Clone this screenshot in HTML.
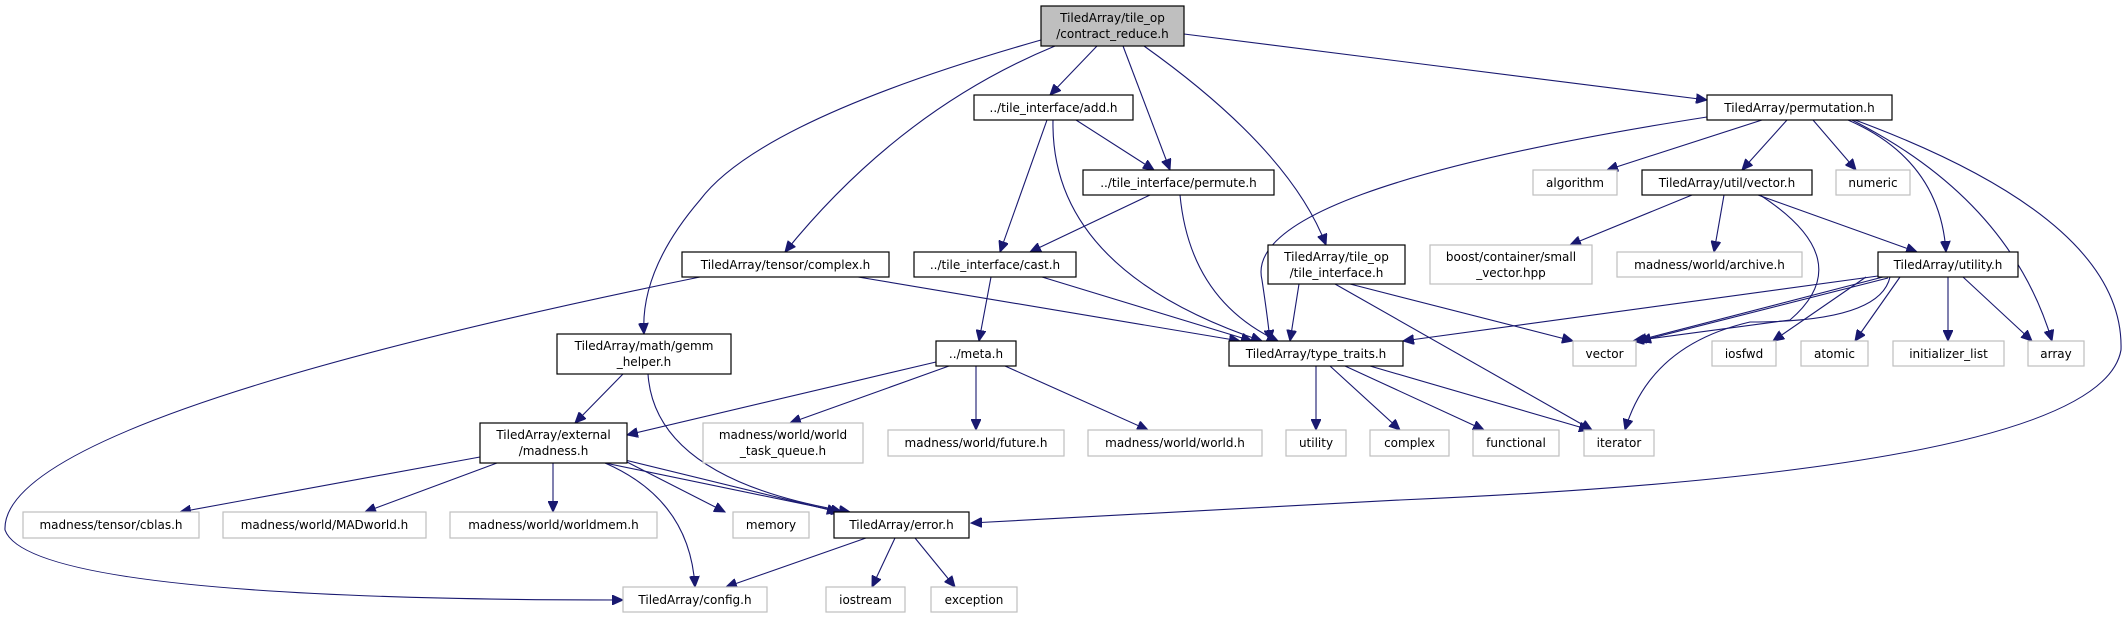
<!DOCTYPE html>
<html><head><meta charset="utf-8"><style>
html,body{margin:0;padding:0;background:#fff;}
svg{display:block;}
text{font-family:"DejaVu Sans","Liberation Sans",sans-serif;font-size:12px;fill:#000;}
.b{fill:#fff;stroke:#000;stroke-width:1.2}
.g{fill:#fff;stroke:#bfbfbf;stroke-width:1.2}
.e{fill:none;stroke:#191970;stroke-width:1.1}
</style></head><body>
<svg width="2127" height="619" viewBox="0 0 2127 619" xmlns="http://www.w3.org/2000/svg">
<defs><marker id="a" markerUnits="userSpaceOnUse" markerWidth="12" markerHeight="10" refX="11" refY="5" orient="auto"><path d="M0,0 L11,5 L0,10 z" fill="#191970" stroke="#191970"/></marker></defs>
<g marker-end="url(#a)">
<path class="e" d="M1041,40 Q760,120 700,200 Q640,270 644,334"/>
<path class="e" d="M1055,46 Q900,110 785,252"/>
<path class="e" d="M1097,46 L1050,95"/>
<path class="e" d="M1123,46 L1170,170"/>
<path class="e" d="M1144,46 Q1290,150 1326,245"/>
<path class="e" d="M1184,34 L1707,100"/>
<path class="e" d="M1047,120 L1000,252"/>
<path class="e" d="M1076,120 L1154,170"/>
<path class="e" d="M1053,120 Q1050,270 1262,341"/>
<path class="e" d="M1150,195 L1030,252"/>
<path class="e" d="M1180,195 Q1190,300 1278,341"/>
<path class="e" d="M858,277 L1240,341"/>
<path class="e" d="M700,277 Q0,420 5,530 Q30,600 623,600"/>
<path class="e" d="M991,277 L979,341"/>
<path class="e" d="M1042,277 L1252,341"/>
<path class="e" d="M1299,284 L1290,341"/>
<path class="e" d="M1350,284 L1573,341"/>
<path class="e" d="M1335,284 L1592,430"/>
<path class="e" d="M1707,117 Q1240,190 1262,280 Q1268,320 1270,341"/>
<path class="e" d="M1762,120 L1607,170"/>
<path class="e" d="M1787,120 L1742,170"/>
<path class="e" d="M1813,120 L1856,170"/>
<path class="e" d="M1848,120 Q1940,160 1946,252"/>
<path class="e" d="M1852,120 Q2010,200 2052,341"/>
<path class="e" d="M1855,120 Q2125,220 2121,350 Q2100,470 1400,500 L971,523"/>
<path class="e" d="M1692,195 L1570,245"/>
<path class="e" d="M1724,195 L1714,252"/>
<path class="e" d="M1758,195 L1917,252"/>
<path class="e" d="M1760,195 Q1860,260 1790,320 L1633,341"/>
<path class="e" d="M1878,276 L1403,341"/>
<path class="e" d="M1883,277 L1636,341"/>
<path class="e" d="M1888,278 L1640,341"/>
<path class="e" d="M1890,277 Q1880,322 1750,322 Q1650,345 1625,430"/>
<path class="e" d="M1866,277 L1773,341"/>
<path class="e" d="M1900,277 L1855,341"/>
<path class="e" d="M1948,277 L1948,341"/>
<path class="e" d="M1963,277 L2032,341"/>
<path class="e" d="M1316,366 L1316,430"/>
<path class="e" d="M1330,366 L1400,430"/>
<path class="e" d="M1345,366 L1484,430"/>
<path class="e" d="M1370,366 L1590,430"/>
<path class="e" d="M936,362 L627,435"/>
<path class="e" d="M949,366 L790,423"/>
<path class="e" d="M976,366 L976,430"/>
<path class="e" d="M1005,366 L1148,430"/>
<path class="e" d="M623,374 L575,423"/>
<path class="e" d="M648,374 Q655,480 850,512"/>
<path class="e" d="M480,457 L180,512"/>
<path class="e" d="M497,463 L365,512"/>
<path class="e" d="M553,463 L553,512"/>
<path class="e" d="M627,462 L725,512"/>
<path class="e" d="M625,460 L838,512"/>
<path class="e" d="M605,463 L842,512"/>
<path class="e" d="M605,463 Q690,500 695,587"/>
<path class="e" d="M866,538 L726,587"/>
<path class="e" d="M895,538 L872,587"/>
<path class="e" d="M915,538 L955,587"/>
</g>
<rect x="1041" y="6" width="143" height="40" fill="#bfbfbf" stroke="#000" stroke-width="1.2"/>
<text x="1112.5" y="22" text-anchor="middle">TiledArray/tile_op</text>
<text x="1112.5" y="38" text-anchor="middle">/contract_reduce.h</text>
<g text-anchor="middle">
<rect class="b" x="974" y="95" width="159" height="25"/><text x="1053.5" y="112">../tile_interface/add.h</text>
<rect class="b" x="1083" y="170" width="191" height="25"/><text x="1178.5" y="187">../tile_interface/permute.h</text>
<rect class="b" x="682" y="252" width="207" height="25"/><text x="785.5" y="269">TiledArray/tensor/complex.h</text>
<rect class="b" x="914" y="252" width="162" height="25"/><text x="995" y="269">../tile_interface/cast.h</text>
<rect class="b" x="1268" y="245" width="137" height="39"/><text x="1336.5" y="261">TiledArray/tile_op</text><text x="1336.5" y="277">/tile_interface.h</text>
<rect class="b" x="1707" y="95" width="185" height="25"/><text x="1799.5" y="112">TiledArray/permutation.h</text>
<rect class="g" x="1533" y="170" width="84" height="25"/><text x="1575" y="187">algorithm</text>
<rect class="b" x="1642" y="170" width="170" height="25"/><text x="1727" y="187">TiledArray/util/vector.h</text>
<rect class="g" x="1836" y="170" width="74" height="25"/><text x="1873" y="187">numeric</text>
<rect class="g" x="1430" y="245" width="162" height="39"/><text x="1511" y="261">boost/container/small</text><text x="1511" y="277">_vector.hpp</text>
<rect class="g" x="1617" y="252" width="185" height="25"/><text x="1709.5" y="269">madness/world/archive.h</text>
<rect class="b" x="1878" y="252" width="140" height="25"/><text x="1948" y="269">TiledArray/utility.h</text>
<rect class="b" x="557" y="334" width="174" height="40"/><text x="644" y="350">TiledArray/math/gemm</text><text x="644" y="366">_helper.h</text>
<rect class="b" x="480" y="423" width="147" height="40"/><text x="553.5" y="439">TiledArray/external</text><text x="553.5" y="455">/madness.h</text>
<rect class="g" x="23" y="512" width="176" height="26"/><text x="111" y="529">madness/tensor/cblas.h</text>
<rect class="g" x="223" y="512" width="203" height="26"/><text x="324.5" y="529">madness/world/MADworld.h</text>
<rect class="g" x="450" y="512" width="207" height="26"/><text x="553.5" y="529">madness/world/worldmem.h</text>
<rect class="g" x="623" y="587" width="144" height="25"/><text x="695" y="604">TiledArray/config.h</text>
<rect class="b" x="936" y="341" width="80" height="25"/><text x="976" y="358">../meta.h</text>
<rect class="b" x="1229" y="341" width="174" height="25"/><text x="1316" y="358">TiledArray/type_traits.h</text>
<rect class="g" x="703" y="423" width="160" height="40"/><text x="783" y="439">madness/world/world</text><text x="783" y="455">_task_queue.h</text>
<rect class="g" x="888" y="430" width="176" height="26"/><text x="976" y="447">madness/world/future.h</text>
<rect class="g" x="1088" y="430" width="174" height="26"/><text x="1175" y="447">madness/world/world.h</text>
<rect class="g" x="1286" y="430" width="60" height="26"/><text x="1316" y="447">utility</text>
<rect class="g" x="1370" y="430" width="79" height="26"/><text x="1409.5" y="447">complex</text>
<rect class="g" x="733" y="512" width="76" height="26"/><text x="771" y="529">memory</text>
<rect class="b" x="834" y="512" width="135" height="26"/><text x="901.5" y="529">TiledArray/error.h</text>
<rect class="g" x="826" y="587" width="79" height="25"/><text x="865.5" y="604">iostream</text>
<rect class="g" x="931" y="587" width="86" height="25"/><text x="974" y="604">exception</text>
<rect class="g" x="1573" y="341" width="63" height="25"/><text x="1604.5" y="358">vector</text>
<rect class="g" x="1712" y="341" width="64" height="25"/><text x="1744" y="358">iosfwd</text>
<rect class="g" x="1801" y="341" width="67" height="25"/><text x="1834.5" y="358">atomic</text>
<rect class="g" x="1893" y="341" width="111" height="25"/><text x="1948.5" y="358">initializer_list</text>
<rect class="g" x="2028" y="341" width="56" height="25"/><text x="2056" y="358">array</text>
<rect class="g" x="1473" y="430" width="86" height="26"/><text x="1516" y="447">functional</text>
<rect class="g" x="1584" y="430" width="70" height="26"/><text x="1619" y="447">iterator</text>
</g>
</svg>
</body></html>
